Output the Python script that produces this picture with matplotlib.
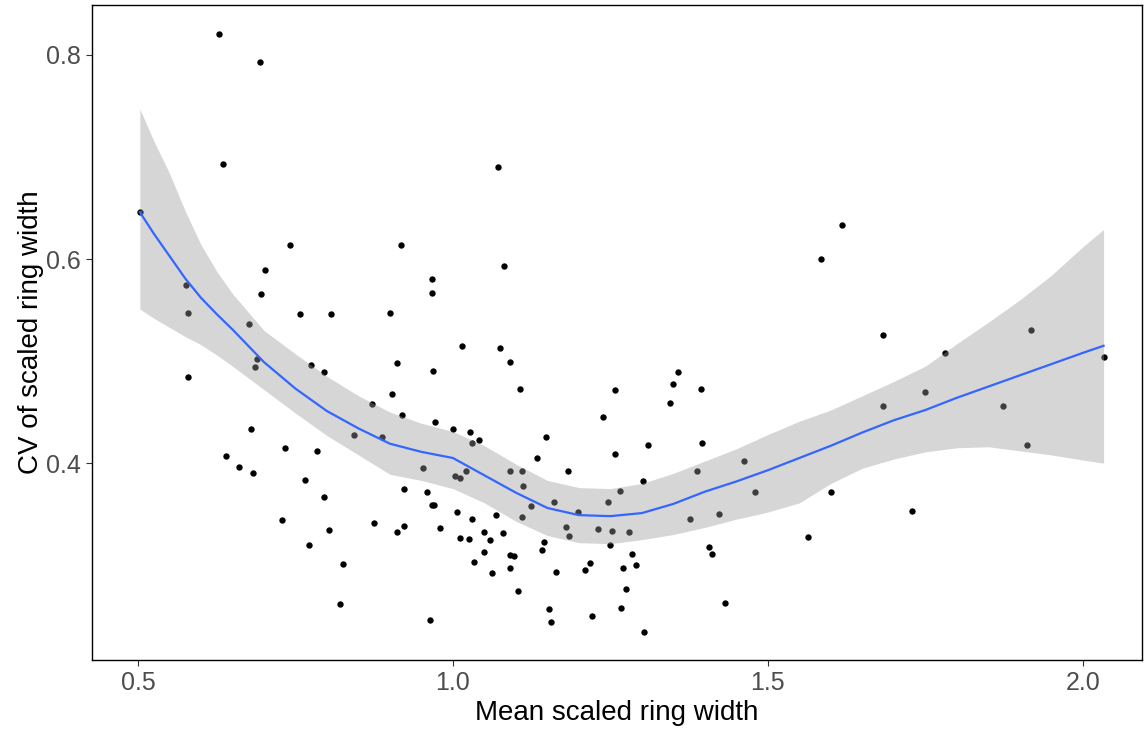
import matplotlib
matplotlib.use("Agg")
import matplotlib.pyplot as plt

plt.rcParams['font.family'] = ['Liberation Sans', 'DejaVu Sans']

# Observed points: mean scaled ring width vs CV of scaled ring width
mean_width = [
    0.629, 0.694, 0.635, 0.503, 0.741, 0.917, 0.702, 0.576, 0.695, 0.579,
    0.757, 0.806, 0.900, 0.677, 0.689, 0.686, 0.579, 0.774, 0.795, 0.911,
    0.904, 0.871, 0.679, 0.843, 0.888, 0.734, 0.785, 0.640, 0.661, 0.682,
    0.765, 0.795, 0.729, 0.804, 0.874, 0.912, 0.772, 0.825, 0.821, 1.071,
    1.081, 0.966, 0.966, 1.015, 1.075, 1.090, 0.969, 1.106, 1.258, 1.238,
    1.257, 0.919, 0.972, 1.000, 1.027, 1.042, 1.031, 1.148, 1.133, 1.183,
    0.952, 1.003, 1.012, 1.021, 1.090, 1.110, 1.111, 0.922, 0.959, 0.967,
    0.970, 1.124, 1.161, 1.199, 1.246, 1.266, 1.006, 1.031, 1.068, 1.110,
    0.923, 0.979, 1.011, 1.026, 1.049, 1.059, 1.080, 1.049, 1.091, 1.097,
    1.034, 1.090, 1.062, 1.103, 0.964, 1.179, 1.184, 1.145, 1.142, 1.164,
    1.231, 1.253, 1.279, 1.249, 1.217, 1.210, 1.270, 1.275, 1.267, 1.221,
    1.153, 1.156, 1.358, 1.350, 1.394, 1.345, 1.310, 1.396, 1.302, 1.388,
    1.462, 1.479, 1.376, 1.422, 1.285, 1.290, 1.406, 1.411, 1.432, 1.303,
    1.617, 1.585, 1.683, 1.917, 2.034, 1.782, 1.749, 1.683, 1.874, 1.912,
    1.601, 1.729, 1.563,
]
cv_width = [
    0.821, 0.793, 0.693, 0.646, 0.614, 0.614, 0.589, 0.575, 0.566, 0.547,
    0.546, 0.546, 0.547, 0.536, 0.502, 0.494, 0.484, 0.496, 0.489, 0.498,
    0.468, 0.458, 0.433, 0.428, 0.426, 0.415, 0.412, 0.407, 0.396, 0.390,
    0.383, 0.367, 0.344, 0.334, 0.341, 0.332, 0.320, 0.301, 0.262, 0.690,
    0.593, 0.580, 0.567, 0.515, 0.513, 0.499, 0.490, 0.473, 0.472, 0.445,
    0.409, 0.447, 0.440, 0.433, 0.430, 0.423, 0.420, 0.426, 0.405, 0.392,
    0.395, 0.387, 0.385, 0.392, 0.392, 0.392, 0.378, 0.375, 0.372, 0.359,
    0.359, 0.358, 0.362, 0.352, 0.362, 0.373, 0.352, 0.345, 0.349, 0.347,
    0.338, 0.336, 0.327, 0.326, 0.332, 0.325, 0.331, 0.313, 0.310, 0.309,
    0.303, 0.297, 0.292, 0.275, 0.246, 0.337, 0.329, 0.323, 0.315, 0.293,
    0.335, 0.333, 0.332, 0.320, 0.302, 0.295, 0.297, 0.277, 0.258, 0.250,
    0.257, 0.244, 0.489, 0.478, 0.473, 0.459, 0.418, 0.420, 0.382, 0.392,
    0.402, 0.372, 0.345, 0.350, 0.311, 0.300, 0.318, 0.311, 0.263, 0.234,
    0.633, 0.600, 0.526, 0.530, 0.504, 0.508, 0.470, 0.456, 0.456, 0.418,
    0.372, 0.353, 0.328,
]

# Smoothed fit (loess) and its confidence band
smooth_x = [0.503, 0.525, 0.55, 0.575, 0.60, 0.625, 0.65, 0.70, 0.75, 0.80,
            0.85, 0.90, 0.95, 1.00, 1.05, 1.10, 1.15, 1.20, 1.25, 1.30,
            1.35, 1.40, 1.45, 1.50, 1.55, 1.60, 1.65, 1.70, 1.75, 1.80,
            1.85, 1.90, 1.95, 2.00, 2.033]
smooth_y = [0.646, 0.625, 0.603, 0.581, 0.562, 0.546, 0.531, 0.499, 0.473, 0.451,
            0.434, 0.419, 0.411, 0.405, 0.388, 0.371, 0.356, 0.349, 0.348, 0.351,
            0.360, 0.372, 0.382, 0.393, 0.405, 0.417, 0.430, 0.442, 0.452, 0.464,
            0.475, 0.486, 0.497, 0.508, 0.515]
band_upper = [0.747, 0.716, 0.684, 0.647, 0.614, 0.588, 0.566, 0.530, 0.507, 0.485,
              0.466, 0.450, 0.439, 0.431, 0.417, 0.399, 0.383, 0.376, 0.375, 0.380,
              0.390, 0.402, 0.414, 0.428, 0.441, 0.452, 0.466, 0.480, 0.495, 0.517,
              0.538, 0.560, 0.584, 0.612, 0.629]
band_lower = [0.551, 0.542, 0.533, 0.524, 0.516, 0.506, 0.495, 0.472, 0.449, 0.427,
              0.408, 0.389, 0.383, 0.375, 0.361, 0.343, 0.329, 0.322, 0.321, 0.325,
              0.330, 0.337, 0.345, 0.352, 0.361, 0.380, 0.395, 0.404, 0.411, 0.415,
              0.416, 0.412, 0.408, 0.403, 0.400]

x_ticks = [0.5, 1.0, 1.5, 2.0]
x_tick_labels = ["0.5", "1.0", "1.5", "2.0"]
y_ticks = [0.4, 0.6, 0.8]
y_tick_labels = ["0.4", "0.6", "0.8"]

fig = plt.figure(figsize=(11.45, 7.29), dpi=100)
ax = fig.add_axes([92 / 1145, 69 / 729, (1142 - 92) / 1145, (724 - 69) / 729])

ax.scatter(mean_width, cv_width, s=21, color="black", linewidths=0, zorder=2)
ax.fill_between(smooth_x, band_lower, band_upper, color="#999999", alpha=0.4,
                linewidth=0, zorder=3)
ax.plot(smooth_x, smooth_y, color="#3366FF", linewidth=1.6, zorder=4)

ax.set_xlim(0.427, 2.094)
ax.set_ylim(0.207, 0.849)
ax.set_xticks(x_ticks)
ax.set_xticklabels(x_tick_labels)
ax.set_yticks(y_ticks)
ax.set_yticklabels(y_tick_labels)
ax.tick_params(axis="both", labelsize=18, labelcolor="#4D4D4D", color="#333333",
               length=4, width=0.8, direction="out", pad=4)
for sp in ax.spines.values():
    sp.set_color("black")
    sp.set_linewidth(1.0)

ax.set_xlabel("Mean scaled ring width", fontsize=20, color="black")
ax.xaxis.set_label_coords(0.5, -0.061)
ax.set_ylabel("CV of scaled ring width", fontsize=20, color="black")
ax.yaxis.set_label_coords(-0.046, 0.5)

fig.savefig("out.png", dpi=100, facecolor="white")
